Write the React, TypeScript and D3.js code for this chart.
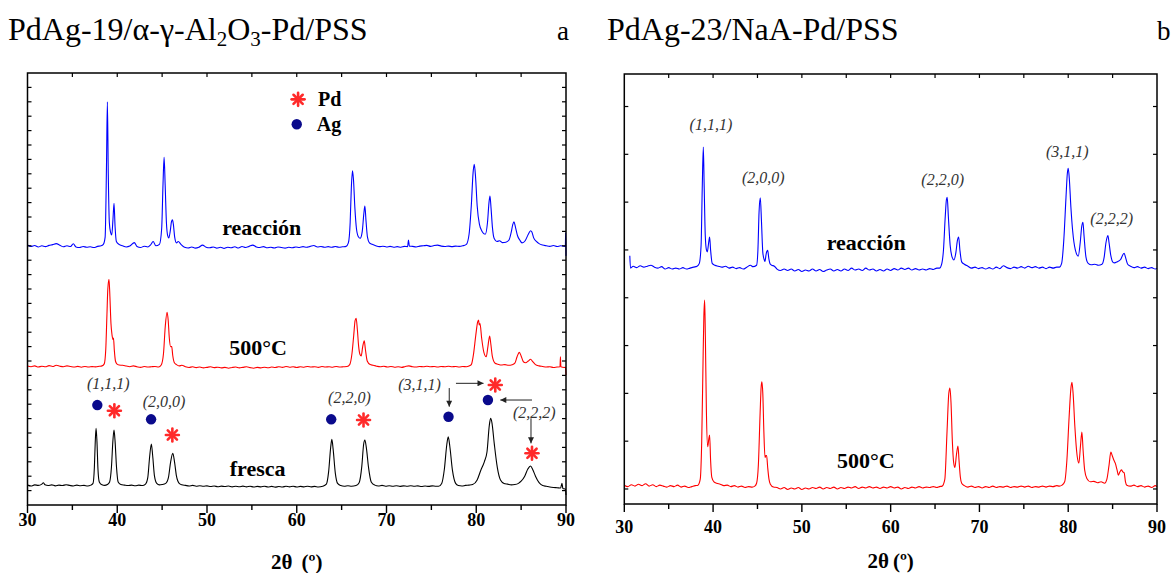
import React from 'react';
import * as d3 from 'd3';

type P = [number, number];

// ---------- axis ticks ----------
const xMajor = [30, 40, 50, 60, 70, 80, 90];
const xMinor = [35, 45, 55, 65, 75, 85];
const yTicksA = d3.range(1, 30);
const yTicksB = d3.range(0, 9);

// ---------- Panel a : PdAg-19 ----------
const reaccionA: P[] = [
  [30.0,18.05],[30.4,17.95],[30.8,18.02],[31.2,17.92],[31.6,18.0],[32.0,17.94],[32.4,18.03],[32.8,18.08],[33.2,18.15],[33.6,18.04],[34.0,17.93],[34.4,18.0],[34.8,17.95],[35.1,18.14],[35.4,17.92],[35.8,17.88],[36.2,17.95],[36.6,17.9],[37.0,17.93],[37.4,17.88],[37.8,17.96],[38.2,18.0],[38.45,18.1],[38.65,18.6],[38.8,23.5],[38.9,28.0],[39.0,23.0],[39.12,19.6],[39.25,18.95],[39.39,18.75],[39.52,19.8],[39.64,20.95],[39.76,19.3],[39.9,18.3],[40.2,18.1],[40.6,18.0],[41.0,17.92],[41.4,17.98],[41.9,18.22],[42.2,17.95],[42.6,17.88],[43.0,17.97],[43.4,17.92],[43.7,18.05],[44.0,18.3],[44.3,18.0],[44.7,18.1],[44.95,19.2],[45.1,22.3],[45.22,24.15],[45.34,22.2],[45.48,19.6],[45.62,18.7],[45.74,18.54],[45.9,19.0],[46.05,19.7],[46.15,19.8],[46.25,19.5],[46.4,18.6],[46.6,18.2],[46.8,18.3],[47.1,18.1],[47.5,17.9],[47.9,17.85],[48.3,17.92],[48.7,17.84],[49.1,17.9],[49.5,18.05],[49.9,17.9],[50.3,17.86],[50.7,17.92],[51.1,17.84],[51.5,17.9],[51.9,17.82],[52.3,17.9],[52.7,17.86],[53.1,17.93],[53.5,17.85],[53.9,17.95],[54.3,17.88],[54.7,17.96],[55.1,18.05],[55.5,17.92],[55.9,17.88],[56.3,17.94],[56.7,17.86],[57.1,17.9],[57.5,17.85],[57.9,17.92],[58.3,17.88],[58.7,17.84],[59.1,17.9],[59.5,17.86],[59.9,17.92],[60.3,17.88],[60.7,17.94],[61.1,17.9],[61.5,17.96],[61.9,18.02],[62.3,17.92],[62.7,17.95],[63.1,17.9],[63.5,17.94],[63.9,17.9],[64.3,17.95],[64.7,17.9],[65.1,17.93],[65.5,17.96],[65.75,18.2],[65.95,19.6],[66.08,22.0],[66.21,23.2],[66.32,22.6],[66.48,20.6],[66.65,19.2],[66.85,18.65],[67.07,18.52],[67.3,19.0],[67.47,20.2],[67.59,20.76],[67.72,19.7],[67.88,18.6],[68.1,18.2],[68.4,18.1],[68.8,18.0],[69.2,17.94],[69.6,17.97],[70.0,17.92],[70.4,17.96],[70.8,17.9],[71.2,17.94],[71.6,17.9],[72.0,17.96],[72.35,17.94],[72.45,18.4],[72.55,17.98],[72.9,17.96],[73.3,17.92],[73.7,17.98],[74.1,18.0],[74.5,18.03],[74.9,17.96],[75.3,18.02],[75.7,18.05],[76.1,17.98],[76.5,17.95],[76.9,17.98],[77.3,17.94],[77.7,17.98],[78.1,17.96],[78.5,18.0],[78.9,18.1],[79.2,18.8],[79.45,20.8],[79.65,23.1],[79.78,23.66],[79.92,22.8],[80.1,20.8],[80.35,19.5],[80.65,19.0],[81.0,18.8],[81.25,19.6],[81.42,21.0],[81.53,21.46],[81.65,20.6],[81.8,19.3],[82.0,18.5],[82.3,18.3],[82.6,18.35],[82.9,18.22],[83.3,18.25],[83.65,18.4],[83.9,18.95],[84.08,19.5],[84.2,19.67],[84.35,19.35],[84.6,18.7],[84.85,18.4],[85.1,18.2],[85.45,18.35],[85.8,18.8],[86.05,19.05],[86.2,18.95],[86.4,18.55],[86.7,18.3],[87.0,18.15],[87.4,18.05],[87.8,18.0],[88.2,17.96],[88.6,18.02],[89.0,17.95],[89.4,18.0],[89.8,17.96],[89.93,18.0],[89.96,18.9],[90.0,17.3],
];

const c500A: P[] = [
  [30.0,9.65],[30.4,9.6],[30.8,9.66],[31.2,9.58],[31.6,9.64],[32.0,9.6],[32.4,9.68],[32.8,9.62],[33.2,9.7],[33.6,9.64],[34.0,9.6],[34.4,9.66],[34.8,9.62],[35.2,9.58],[35.6,9.63],[36.0,9.57],[36.4,9.62],[36.8,9.58],[37.2,9.61],[37.6,9.59],[38.0,9.63],[38.3,9.66],[38.55,9.8],[38.72,10.8],[38.85,13.2],[38.95,15.0],[39.08,15.67],[39.18,14.5],[39.3,12.6],[39.42,11.8],[39.52,11.5],[39.58,11.6],[39.68,10.7],[39.8,10.0],[39.95,9.8],[40.2,9.72],[40.6,9.7],[41.0,9.65],[41.4,9.6],[41.8,9.66],[42.2,9.6],[42.6,9.56],[43.0,9.62],[43.4,9.58],[43.8,9.6],[44.2,9.62],[44.6,9.58],[44.9,9.72],[45.15,10.5],[45.35,12.4],[45.55,13.38],[45.68,12.8],[45.8,11.6],[45.95,11.0],[46.07,11.0],[46.18,10.4],[46.35,9.9],[46.6,9.75],[46.9,9.66],[47.2,9.7],[47.6,9.6],[48.0,9.55],[48.4,9.6],[48.8,9.54],[49.2,9.58],[49.6,9.52],[50.0,9.56],[50.4,9.6],[50.8,9.54],[51.2,9.57],[51.6,9.52],[52.0,9.56],[52.4,9.5],[52.8,9.55],[53.2,9.58],[53.6,9.52],[54.0,9.56],[54.4,9.6],[54.8,9.54],[55.2,9.5],[55.6,9.56],[56.0,9.52],[56.4,9.57],[56.8,9.53],[57.2,9.58],[57.6,9.55],[58.0,9.6],[58.4,9.56],[58.8,9.62],[59.2,9.57],[59.6,9.6],[60.0,9.55],[60.4,9.6],[60.8,9.57],[61.2,9.62],[61.6,9.58],[62.0,9.6],[62.4,9.56],[62.8,9.62],[63.2,9.58],[63.6,9.6],[64.0,9.57],[64.4,9.62],[64.8,9.58],[65.2,9.6],[65.6,9.62],[65.9,9.75],[66.15,10.5],[66.35,11.8],[66.5,12.8],[66.62,12.97],[66.75,12.2],[66.9,11.0],[67.05,10.45],[67.18,10.35],[67.35,11.0],[67.52,11.4],[67.65,10.8],[67.85,10.0],[68.18,9.75],[68.5,9.7],[68.9,9.64],[69.3,9.6],[69.7,9.64],[70.1,9.58],[70.5,9.62],[70.9,9.57],[71.3,9.6],[71.7,9.56],[72.1,9.62],[72.5,9.66],[72.9,9.6],[73.3,9.58],[73.7,9.62],[74.1,9.6],[74.5,9.64],[74.9,9.6],[75.3,9.62],[75.7,9.58],[76.1,9.62],[76.5,9.6],[76.9,9.64],[77.3,9.6],[77.7,9.62],[78.1,9.58],[78.5,9.62],[78.9,9.6],[79.2,9.65],[79.45,9.75],[79.7,10.5],[79.95,11.8],[80.15,12.7],[80.26,12.85],[80.33,12.5],[80.42,12.6],[80.6,11.6],[80.85,10.6],[81.11,10.3],[81.3,11.0],[81.49,11.74],[81.62,11.2],[81.8,10.3],[82.1,9.84],[82.4,9.78],[82.8,9.72],[83.2,9.75],[83.6,9.7],[84.0,9.74],[84.3,9.85],[84.55,10.3],[84.8,10.6],[85.0,10.35],[85.25,9.95],[85.5,9.88],[85.8,10.0],[86.05,10.12],[86.3,9.95],[86.6,9.75],[87.0,9.66],[87.4,9.62],[87.8,9.58],[88.2,9.6],[88.6,9.55],[89.0,9.58],[89.33,9.6],[89.38,10.3],[89.43,9.6],[89.8,9.55],[89.95,9.56],[90.0,9.03],
];

const frescaA: P[] = [
  [30.0,1.38],[30.4,1.32],[30.8,1.4],[31.2,1.36],[31.6,1.45],[31.76,1.55],[31.95,1.4],[32.3,1.35],[32.7,1.4],[33.1,1.33],[33.5,1.38],[33.9,1.35],[34.3,1.41],[34.7,1.36],[35.1,1.32],[35.5,1.38],[35.9,1.34],[36.3,1.36],[36.7,1.32],[37.05,1.38],[37.3,1.5],[37.45,2.6],[37.55,4.4],[37.64,5.33],[37.74,4.4],[37.85,2.5],[38.0,1.6],[38.3,1.4],[38.6,1.36],[38.9,1.42],[39.15,1.6],[39.35,2.6],[39.52,4.5],[39.64,5.21],[39.76,4.4],[39.92,2.6],[40.1,1.6],[40.4,1.42],[40.8,1.38],[41.2,1.35],[41.6,1.38],[42.0,1.34],[42.4,1.38],[42.8,1.35],[43.15,1.45],[43.4,1.9],[43.6,3.3],[43.8,4.24],[43.95,3.4],[44.15,2.0],[44.4,1.5],[44.7,1.4],[45.0,1.42],[45.4,1.5],[45.7,1.9],[45.95,3.0],[46.19,3.59],[46.38,3.0],[46.6,2.0],[46.9,1.5],[47.2,1.4],[47.6,1.36],[48.0,1.32],[48.4,1.36],[48.8,1.3],[49.2,1.34],[49.6,1.3],[50.0,1.33],[50.4,1.28],[50.8,1.32],[51.2,1.27],[51.6,1.31],[52.0,1.28],[52.4,1.32],[52.8,1.26],[53.2,1.3],[53.6,1.27],[54.0,1.31],[54.4,1.26],[54.8,1.3],[55.2,1.25],[55.6,1.29],[56.0,1.26],[56.4,1.3],[56.8,1.25],[57.2,1.29],[57.6,1.24],[58.0,1.28],[58.4,1.25],[58.8,1.3],[59.2,1.26],[59.6,1.3],[60.0,1.25],[60.4,1.29],[60.8,1.26],[61.2,1.3],[61.6,1.26],[62.0,1.29],[62.4,1.25],[62.9,1.3],[63.3,1.45],[63.55,2.3],[63.78,4.0],[63.91,4.56],[64.05,3.9],[64.3,2.2],[64.55,1.5],[64.9,1.35],[65.3,1.3],[65.7,1.34],[66.1,1.3],[66.6,1.35],[66.95,1.55],[67.25,2.7],[67.45,4.2],[67.59,4.51],[67.75,4.0],[68.0,2.6],[68.3,1.6],[68.7,1.38],[69.1,1.32],[69.5,1.36],[69.9,1.3],[70.3,1.34],[70.7,1.3],[71.1,1.34],[71.5,1.29],[71.9,1.33],[72.3,1.3],[72.7,1.34],[73.1,1.3],[73.5,1.33],[73.9,1.28],[74.3,1.32],[74.7,1.29],[75.1,1.33],[75.5,1.3],[75.8,1.3],[76.15,1.5],[76.45,2.5],[76.72,4.2],[76.88,4.74],[77.05,4.1],[77.35,2.4],[77.7,1.5],[78.0,1.35],[78.4,1.32],[78.8,1.36],[79.2,1.38],[79.6,1.42],[80.1,1.74],[80.5,2.4],[80.9,3.0],[81.2,3.7],[81.45,5.5],[81.6,6.02],[81.75,5.7],[82.0,4.3],[82.35,2.6],[82.7,1.74],[83.1,1.5],[83.5,1.45],[83.9,1.4],[84.3,1.42],[84.7,1.5],[85.0,1.65],[85.4,2.0],[85.75,2.5],[86.05,2.71],[86.3,2.45],[86.6,2.0],[87.0,1.55],[87.4,1.35],[87.8,1.3],[88.2,1.25],[88.6,1.22],[89.0,1.2],[89.4,1.18],[89.55,1.5],[89.65,1.15],[89.93,1.1],[90.0,0.69],
];

// ---------- Panel b : PdAg-23 ----------
const reaccionB: P[] = [
  [30.62,4.88],[30.7,4.62],[31.0,4.66],[31.4,4.63],[31.8,4.67],[32.2,4.64],[32.6,4.66],[33.0,4.68],[33.4,4.64],[33.8,4.62],[34.2,4.65],[34.6,4.6],[35.0,4.63],[35.4,4.6],[35.8,4.62],[36.2,4.6],[36.6,4.63],[37.0,4.6],[37.4,4.62],[37.8,4.64],[38.2,4.66],[38.45,4.72],[38.65,5.1],[38.78,6.3],[38.9,7.15],[39.0,6.3],[39.12,5.3],[39.25,5.0],[39.35,4.96],[39.5,5.15],[39.61,5.27],[39.72,5.0],[39.9,4.72],[40.2,4.68],[40.6,4.66],[41.0,4.64],[41.4,4.66],[41.8,4.62],[42.2,4.64],[42.6,4.61],[43.0,4.63],[43.4,4.6],[43.8,4.64],[44.2,4.68],[44.5,4.65],[44.9,4.68],[45.05,5.0],[45.18,5.8],[45.32,6.09],[45.45,5.6],[45.6,4.95],[45.75,4.8],[45.84,4.76],[45.98,4.92],[46.15,4.99],[46.28,4.82],[46.45,4.7],[46.6,4.68],[46.9,4.66],[47.2,4.6],[47.6,4.57],[48.0,4.6],[48.4,4.57],[48.8,4.6],[49.2,4.56],[49.6,4.59],[50.0,4.55],[50.4,4.58],[50.8,4.56],[51.2,4.6],[51.6,4.56],[52.0,4.59],[52.4,4.55],[52.8,4.58],[53.2,4.6],[53.6,4.56],[54.0,4.59],[54.4,4.56],[54.8,4.6],[55.2,4.57],[55.6,4.62],[56.0,4.58],[56.4,4.6],[56.8,4.57],[57.2,4.62],[57.6,4.58],[58.0,4.6],[58.4,4.56],[58.8,4.59],[59.2,4.56],[59.6,4.6],[60.0,4.57],[60.4,4.61],[60.8,4.58],[61.2,4.62],[61.6,4.59],[62.0,4.62],[62.4,4.58],[62.8,4.61],[63.2,4.58],[63.6,4.6],[64.0,4.58],[64.4,4.61],[64.8,4.59],[65.2,4.62],[65.5,4.62],[65.74,4.7],[65.95,5.0],[66.15,5.7],[66.28,6.05],[66.37,6.1],[66.5,5.7],[66.7,5.1],[66.92,4.85],[67.13,4.79],[67.35,4.95],[67.52,5.2],[67.66,5.27],[67.8,5.0],[68.0,4.75],[68.3,4.7],[68.7,4.66],[69.1,4.62],[69.5,4.64],[69.9,4.61],[70.3,4.63],[70.7,4.6],[71.1,4.63],[71.5,4.6],[71.9,4.64],[72.3,4.61],[72.7,4.67],[73.1,4.63],[73.5,4.61],[73.9,4.64],[74.3,4.62],[74.7,4.65],[75.1,4.62],[75.5,4.66],[75.9,4.63],[76.3,4.65],[76.7,4.62],[77.1,4.64],[77.5,4.61],[77.9,4.64],[78.3,4.62],[78.7,4.64],[79.0,4.64],[79.26,4.72],[79.5,5.2],[79.75,6.1],[79.9,6.6],[80.0,6.71],[80.12,6.5],[80.3,5.9],[80.5,5.4],[80.8,5.0],[81.13,4.87],[81.35,5.15],[81.53,5.5],[81.66,5.58],[81.78,5.3],[82.0,4.85],[82.25,4.72],[82.6,4.69],[83.0,4.7],[83.4,4.68],[83.8,4.7],[84.05,4.85],[84.25,5.15],[84.47,5.3],[84.6,5.15],[84.8,4.88],[85.05,4.74],[85.2,4.73],[85.5,4.75],[85.9,4.8],[86.1,4.88],[86.3,4.93],[86.45,4.85],[86.7,4.7],[87.0,4.66],[87.4,4.63],[87.8,4.65],[88.2,4.62],[88.6,4.64],[89.0,4.61],[89.4,4.63],[89.8,4.6],[90.0,4.62],
];

const c500B: P[] = [
  [30.0,0.08],[30.4,0.05],[30.8,0.09],[31.2,0.06],[31.6,0.1],[32.0,0.07],[32.4,0.11],[32.8,0.06],[33.2,0.09],[33.6,0.05],[34.0,0.08],[34.4,0.06],[34.8,0.04],[35.2,0.07],[35.6,0.05],[36.0,0.08],[36.4,0.04],[36.8,0.06],[37.2,0.03],[37.6,0.05],[38.0,0.07],[38.3,0.08],[38.55,0.2],[38.72,1.0],[38.88,2.8],[38.96,3.6],[39.05,3.95],[39.13,3.2],[39.25,1.6],[39.39,0.885],[39.52,1.05],[39.61,1.13],[39.72,0.6],[39.85,0.25],[40.1,0.15],[40.4,0.12],[40.8,0.1],[41.2,0.07],[41.6,0.08],[42.0,0.05],[42.4,0.07],[42.8,0.04],[43.2,0.06],[43.6,0.03],[44.0,0.05],[44.4,0.04],[44.7,0.06],[44.9,0.12],[45.1,0.5],[45.3,1.6],[45.42,2.15],[45.5,2.24],[45.6,2.0],[45.72,1.2],[45.85,0.66],[45.95,0.7],[46.03,0.7],[46.15,0.45],[46.3,0.2],[46.45,0.1],[46.8,0.04],[47.2,0.03],[47.6,0.0],[48.0,0.03],[48.4,-0.01],[48.8,0.02],[49.2,0.0],[49.6,0.03],[50.0,-0.01],[50.4,0.02],[50.8,0.0],[51.2,0.03],[51.6,0.01],[52.0,0.04],[52.4,0.0],[52.8,0.03],[53.2,0.01],[53.6,0.04],[54.0,0.0],[54.4,0.03],[54.8,0.01],[55.2,0.04],[55.6,0.02],[56.0,0.05],[56.4,0.01],[56.8,0.04],[57.2,0.02],[57.6,0.05],[58.0,0.02],[58.4,0.04],[58.8,0.01],[59.2,0.04],[59.6,0.02],[60.0,0.05],[60.4,0.02],[60.8,0.04],[61.2,0.0],[61.6,0.03],[62.0,0.01],[62.4,0.04],[62.8,0.02],[63.2,0.05],[63.6,0.02],[64.0,0.04],[64.4,0.03],[64.8,0.05],[65.2,0.03],[65.5,0.05],[65.8,0.06],[66.1,0.2],[66.35,1.2],[66.55,2.0],[66.68,2.11],[66.8,1.8],[66.95,1.0],[67.1,0.55],[67.24,0.45],[67.4,0.7],[67.58,0.9],[67.7,0.6],[67.85,0.25],[68.0,0.12],[68.3,0.07],[68.7,0.04],[69.1,0.06],[69.5,0.03],[69.9,0.05],[70.3,0.02],[70.7,0.05],[71.1,0.03],[71.5,0.06],[71.9,0.03],[72.3,0.05],[72.7,0.04],[73.1,0.06],[73.5,0.03],[73.9,0.05],[74.3,0.04],[74.7,0.06],[75.1,0.04],[75.5,0.06],[75.9,0.03],[76.3,0.05],[76.7,0.04],[77.1,0.06],[77.5,0.04],[77.9,0.06],[78.3,0.05],[78.7,0.07],[79.0,0.06],[79.3,0.08],[79.6,0.15],[79.85,0.6],[80.1,1.5],[80.3,2.1],[80.42,2.23],[80.55,2.0],[80.75,1.3],[81.0,0.7],[81.2,0.54],[81.38,0.9],[81.54,1.19],[81.68,0.8],[81.85,0.4],[82.1,0.22],[82.5,0.15],[82.9,0.16],[83.3,0.13],[83.7,0.15],[84.1,0.12],[84.35,0.2],[84.6,0.5],[84.8,0.77],[84.95,0.7],[85.15,0.6],[85.3,0.54],[85.5,0.4],[85.65,0.29],[85.8,0.35],[86.0,0.4],[86.15,0.36],[86.3,0.34],[86.45,0.15],[86.6,0.08],[87.0,0.06],[87.4,0.08],[87.8,0.05],[88.2,0.07],[88.6,0.04],[89.0,0.06],[89.4,0.03],[89.8,0.07],[90.0,0.05],
];

// ---------- annotations (data coordinates) ----------
const hklA = [
  { t: '(1,1,1)', x: 39.0, y: 8.03 },
  { t: '(2,0,0)', x: 45.22, y: 6.83 },
  { t: '(2,2,0)', x: 65.87, y: 7.06 },
  { t: '(3,1,1)', x: 73.68, y: 7.99 },
  { t: '(2,2,2)', x: 86.47, y: 6.02 },
];
const agDotsA: P[] = [[37.78, 6.94], [43.77, 5.95], [63.84, 5.95], [76.91, 6.13], [81.3, 7.29]];
const pdStarsA: P[] = [[39.68, 6.55], [46.14, 4.86], [67.44, 5.9], [82.12, 8.33], [86.21, 3.59]];
const arrowsA: [P, P][] = [
  [[76.99, 8.12], [76.99, 6.83]],
  [[77.74, 8.45], [80.81, 8.45]],
  [[86.21, 7.29], [82.68, 7.29]],
  [[86.1, 6.02], [86.1, 4.28]],
];
const legendA = [
  { label: 'Pd', kind: 'star', x: 60.15, y: 28.17 },
  { label: 'Ag', kind: 'dot', x: 60.0, y: 26.44 },
];
const seriesLabelsA = [
  { t: 'reacción', x: 56.1, y: 18.75 },
  { t: '500°C', x: 55.7, y: 10.42 },
  { t: 'fresca', x: 55.64, y: 2.01 },
];

const hklB = [
  { t: '(1,1,1)', x: 39.76, y: 7.5 },
  { t: '(2,0,0)', x: 45.65, y: 6.41 },
  { t: '(2,2,0)', x: 65.86, y: 6.36 },
  { t: '(3,1,1)', x: 79.89, y: 6.95 },
  { t: '(2,2,2)', x: 84.89, y: 5.54 },
];
const seriesLabelsB = [
  { t: 'reacción', x: 57.25, y: 5.0 },
  { t: '500°C', x: 57.2, y: 0.43 },
];

// ---------- layout ----------
const W = 1172;
const H = 573;
const FONT = 'Liberation Serif, serif';
const BLUE = '#0000ff';
const RED = '#ff0000';
const NAVY = '#0a0a8c';
const STAR = '#ff2a2a';
const GRAY = '#333333';

interface Cfg {
  left: number; right: number; top: number; bottom: number;
  yDomain: [number, number]; yTicks: number[];
  labelBase: number; titleBase: number; titleGap: number;
}
const cfgA: Cfg = { left: 27.5, right: 566, top: 73, bottom: 505, yDomain: [0, 30], yTicks: yTicksA, labelBase: 526, titleBase: 569, titleGap: 9 };
const cfgB: Cfg = { left: 624.3, right: 1157, top: 74, bottom: 504, yDomain: [-0.314, 8.68], yTicks: yTicksB, labelBase: 533, titleBase: 568, titleGap: 4 };

function Star({ cx, cy, r }: { cx: number; cy: number; r: number }) {
  return (
    <g stroke={STAR} strokeWidth={2.6} strokeLinecap="round">
      {[0, 45, 90, 135].map((a) => {
        const rad = (a * Math.PI) / 180;
        const dx = Math.cos(rad) * r, dy = Math.sin(rad) * r;
        return <line key={a} x1={cx - dx} y1={cy - dy} x2={cx + dx} y2={cy + dy} />;
      })}
    </g>
  );
}

function Frame({ cfg, x, y }: { cfg: Cfg; x: d3.ScaleLinear<number, number>; y: d3.ScaleLinear<number, number> }) {
  const ticks5 = [...xMajor, ...xMinor].filter((v) => v > 30 && v < 90);
  return (
    <g>
      {ticks5.map((v) => (
        <line key={'t' + v} x1={x(v)} x2={x(v)} y1={cfg.top} y2={cfg.top + 4} stroke="#000" strokeWidth={1.2} />
      ))}
      {cfg.yTicks.map((v) => (
        <g key={'y' + v}>
          <line x1={cfg.left} x2={cfg.left + 4} y1={y(v)} y2={y(v)} stroke="#000" strokeWidth={1.2} />
          <line x1={cfg.right - 4} x2={cfg.right} y1={y(v)} y2={y(v)} stroke="#000" strokeWidth={1.2} />
        </g>
      ))}
      {xMajor.map((v) => (
        <line key={'M' + v} x1={x(v)} x2={x(v)} y1={cfg.bottom} y2={cfg.bottom + 8} stroke="#000" strokeWidth={1.4} />
      ))}
      {xMinor.map((v) => (
        <line key={'m' + v} x1={x(v)} x2={x(v)} y1={cfg.bottom} y2={cfg.bottom + 5} stroke="#000" strokeWidth={1.4} />
      ))}
      {xMajor.map((v) => (
        <text key={'L' + v} x={x(v)} y={cfg.labelBase} textAnchor="middle" fontFamily={FONT} fontWeight="bold" fontSize={18}>
          {v}
        </text>
      ))}
      <rect x={cfg.left} y={cfg.top} width={cfg.right - cfg.left} height={cfg.bottom - cfg.top} fill="none" stroke="#000" strokeWidth={1.5} />
      <text x={(cfg.left + cfg.right) / 2} y={cfg.titleBase} textAnchor="middle" fontFamily={FONT} fontWeight="bold" fontSize={21}>
        2θ<tspan dx={cfg.titleGap}>(º)</tspan>
      </text>
    </g>
  );
}

function makeScales(cfg: Cfg) {
  const x = d3.scaleLinear().domain([30, 90]).range([cfg.left, cfg.right]);
  const y = d3.scaleLinear().domain(cfg.yDomain).range([cfg.bottom, cfg.top]);
  return { x, y };
}

export default function App() {
  const A = makeScales(cfgA);
  const B = makeScales(cfgB);
  const lineA = d3.line<P>().x((d) => A.x(d[0])).y((d) => A.y(d[1])).curve(d3.curveMonotoneX);
  const lineB = d3.line<P>().x((d) => B.x(d[0])).y((d) => B.y(d[1])).curve(d3.curveMonotoneX);

  return (
    <svg width={W} height={H} viewBox={`0 0 ${W} ${H}`} style={{ position: 'absolute', left: 0, top: 0, background: '#fff' }}>
      <defs>
        <marker id="arrowHead" viewBox="0 0 10 10" refX={10} refY={5} markerWidth={8} markerHeight={6} markerUnits="userSpaceOnUse" orient="auto">
          <path d="M0,0 L10,5 L0,10 z" fill="#222" />
        </marker>
      </defs>
      <rect x={0} y={0} width={W} height={H} fill="#fff" />

      {/* Titles */}
      <text x={8} y={40} fontFamily={FONT} fontSize={32}>
        PdAg-19/α-γ-Al<tspan fontSize={21} dy={6}>2</tspan>
        <tspan dy={-6}>O</tspan>
        <tspan fontSize={21} dy={6}>3</tspan>
        <tspan dy={-6}>-Pd/PSS</tspan>
      </text>
      <text x={557} y={40} fontFamily={FONT} fontSize={27}>a</text>
      <text x={607} y={40} fontFamily={FONT} fontSize={32}>PdAg-23/NaA-Pd/PSS</text>
      <text x={1157} y={40} fontFamily={FONT} fontSize={27}>b</text>

      {/* Panel a */}
      <g>
        <path d={lineA(frescaA) || ''} fill="none" stroke="#000" strokeWidth={1.1} />
        <path d={lineA(c500A) || ''} fill="none" stroke={RED} strokeWidth={1.1} />
        <path d={lineA(reaccionA) || ''} fill="none" stroke={BLUE} strokeWidth={1.1} />
        <Frame cfg={cfgA} x={A.x} y={A.y} />
        {seriesLabelsA.map((s) => (
          <text key={s.t} x={A.x(s.x)} y={A.y(s.y)} textAnchor="middle" fontFamily={FONT} fontWeight="bold" fontSize={22}>
            {s.t}
          </text>
        ))}
        {hklA.map((h) => (
          <text key={h.t} x={A.x(h.x)} y={A.y(h.y)} textAnchor="middle" fontFamily={FONT} fontStyle="italic" fontSize={16} fill={GRAY}>
            {h.t}
          </text>
        ))}
        {agDotsA.map((d, i) => (
          <circle key={'ag' + i} cx={A.x(d[0])} cy={A.y(d[1])} r={5.2} fill={NAVY} />
        ))}
        {pdStarsA.map((d, i) => (
          <Star key={'pd' + i} cx={A.x(d[0])} cy={A.y(d[1])} r={6.5} />
        ))}
        {arrowsA.map((a, i) => (
          <line key={'ar' + i} x1={A.x(a[0][0])} y1={A.y(a[0][1])} x2={A.x(a[1][0])} y2={A.y(a[1][1])} stroke="#222" strokeWidth={1} markerEnd="url(#arrowHead)" />
        ))}
        {legendA.map((l) => (
          <g key={l.label}>
            {l.kind === 'star' ? (
              <Star cx={A.x(l.x)} cy={A.y(l.y)} r={6.5} />
            ) : (
              <circle cx={A.x(l.x)} cy={A.y(l.y)} r={5.2} fill={NAVY} />
            )}
            <text x={A.x(l.x) + 20} y={A.y(l.y) + 7} fontFamily={FONT} fontWeight="bold" fontSize={20}>
              {l.label}
            </text>
          </g>
        ))}
      </g>

      {/* Panel b */}
      <g>
        <path d={lineB(c500B) || ''} fill="none" stroke={RED} strokeWidth={1.1} />
        <path d={lineB(reaccionB) || ''} fill="none" stroke={BLUE} strokeWidth={1.1} />
        <Frame cfg={cfgB} x={B.x} y={B.y} />
        {seriesLabelsB.map((s) => (
          <text key={s.t} x={B.x(s.x)} y={B.y(s.y)} textAnchor="middle" fontFamily={FONT} fontWeight="bold" fontSize={22}>
            {s.t}
          </text>
        ))}
        {hklB.map((h) => (
          <text key={h.t} x={B.x(h.x)} y={B.y(h.y)} textAnchor="middle" fontFamily={FONT} fontStyle="italic" fontSize={16} fill={GRAY}>
            {h.t}
          </text>
        ))}
      </g>
    </svg>
  );
}
